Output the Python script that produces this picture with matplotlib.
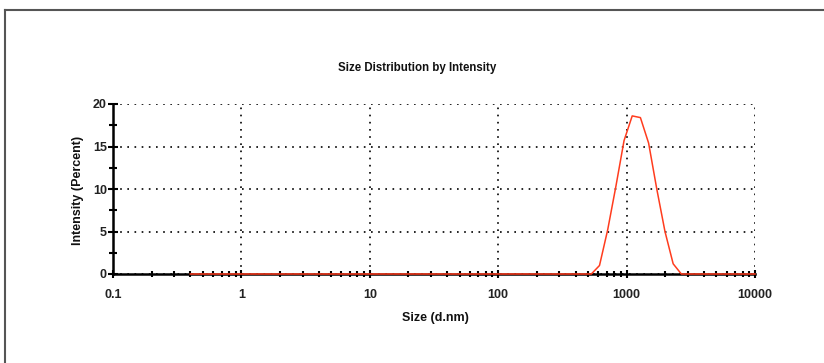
import matplotlib
matplotlib.use("Agg")
import matplotlib.pyplot as plt
from matplotlib.lines import Line2D
from matplotlib.ticker import LogLocator, FixedLocator, NullFormatter, FixedFormatter

# Size classes (d.nm) and intensity (%) of the distribution
size_nm = [0.4, 531.2, 615.1, 712.4, 825.0, 955.4, 1106, 1281, 1484, 1718, 1990, 2305, 2669, 10000]
intensity_pct = [0.0, 0.0, 1.0, 5.2, 10.3, 15.7, 18.6, 18.4, 15.4, 10.0, 5.0, 1.2, 0.0, 0.0]

x_ticks = [0.1, 1, 10, 100, 1000, 10000]
x_tick_labels = ["0.1", "1", "10", "100", "1000", "10000"]
y_ticks = [0, 5, 10, 15, 20]

title = "Size Distribution by Intensity"
x_label = "Size (d.nm)"
y_label = "Intensity (Percent)"

plt.rcParams["font.family"] = ["Liberation Sans", "DejaVu Sans"]

fig = plt.figure(figsize=(8.24, 3.63), dpi=100)
fig.patch.set_facecolor("white")
ax = fig.add_axes([113 / 824, 1 - 274 / 363, (755 - 113) / 824, (274 - 104) / 363])

ax.set_xscale("log")
ax.set_xlim(0.1, 10000)
ax.set_ylim(0, 20)

# distribution curve drawn over the baseline
ax.plot(size_nm, intensity_pct, color="#ff3c1e", lw=1.1, zorder=4, clip_on=False)

ax.xaxis.set_major_locator(FixedLocator(x_ticks))
ax.xaxis.set_major_formatter(FixedFormatter(x_tick_labels))
ax.xaxis.set_minor_locator(LogLocator(base=10, subs=range(2, 10)))
ax.xaxis.set_minor_formatter(NullFormatter())
ax.yaxis.set_major_locator(FixedLocator(y_ticks))
ax.yaxis.set_minor_locator(FixedLocator([2.5, 7.5, 12.5, 17.5]))

ax.grid(True, which="major", color="black", linestyle=(0, (1, 3.3)), linewidth=1.2)
ax.set_axisbelow(True)

for side in ("top", "right"):
    ax.spines[side].set_visible(False)
ax.spines["left"].set_linewidth(1.8)
ax.spines["bottom"].set_linewidth(1.8)
ax.spines["left"].set_zorder(3)
ax.spines["bottom"].set_zorder(3)

ax.tick_params(axis="y", which="major", direction="inout", length=7, width=1.5, pad=1,
               labelsize=9)
ax.tick_params(axis="y", which="minor", direction="inout", length=6, width=1.5)
ax.tick_params(axis="x", which="major", direction="inout", length=6, width=1.5, pad=8,
               labelsize=9)
ax.tick_params(axis="x", which="minor", direction="inout", length=5, width=1.5)
for lbl in ax.get_xticklabels() + ax.get_yticklabels():
    lbl.set_fontweight("bold")
    lbl.set_color("#222222")

fig.text(417 / 824, 1 - 68 / 363, title, ha="center", va="center",
         fontsize=8.3, fontweight="bold", color="#111111")
fig.text(435 / 824, 1 - 318 / 363, x_label, ha="center", va="center",
         fontsize=9, fontweight="bold", color="#111111")
fig.text(78 / 824, 1 - 190 / 363, y_label, ha="center", va="center", rotation=90,
         fontsize=9, fontweight="bold", color="#111111")

# outer panel border
fig.add_artist(Line2D([5 / 824, 1], [1 - 10 / 363, 1 - 10 / 363], transform=fig.transFigure,
                      color="#555555", lw=1.5))
fig.add_artist(Line2D([5 / 824, 5 / 824], [0, 1 - 10 / 363], transform=fig.transFigure,
                      color="#555555", lw=1.5))

fig.savefig("out.png", dpi=100, facecolor="white")
